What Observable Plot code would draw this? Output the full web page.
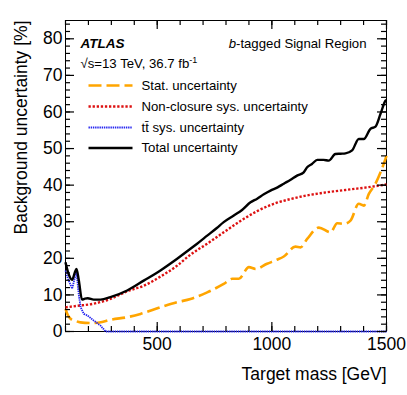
<!DOCTYPE html>
<html>
<head>
<meta charset="utf-8">
<script src="https://cdn.jsdelivr.net/npm/d3@7"></script>
<script src="https://cdn.jsdelivr.net/npm/@observablehq/plot@0.6"></script>
<style>
  html, body { margin: 0; padding: 0; background: white; }
</style>
</head>
<body>
<div id="chart"></div>
<script>
// ---- Data ----
const totalMass = [100,112,129,140,148,158,172,185,197,223,253,296,369,441,514,587,645,674,718,760,790,834,870,907,936,965,994,1025,1052,1080,1110,1139,1154,1175,1198,1225,1248,1277,1300,1321,1350,1379,1401,1430,1452,1474,1496,1500];
const totalVal  = [18.9,16.0,14.1,16.0,17.1,14.0,8.7,9.0,9.1,8.7,8.7,9.4,11.2,13.9,16.7,19.9,22.6,24.0,26.2,28.3,29.9,31.7,33.2,35.3,36.3,37.5,38.5,39.4,40.4,41.4,42.6,43.5,44.9,45.8,46.9,46.9,46.7,48.5,48.6,48.7,49.5,52.6,52.6,55.4,56.0,59.5,63.1,63.3];

const statMass = [100,110,122,140,165,223,260,296,369,427,514,587,645,718,790,827,856,900,929,979,1022,1052,1103,1125,1154,1205,1256,1285,1314,1343,1379,1401,1423,1452,1474,1500];
const statVal  = [6.2,4.5,3.5,3.0,2.5,2.3,2.6,3.2,3.9,4.8,6.6,8.0,8.9,10.7,13.0,14.4,14.4,17.6,17.1,18.5,19.6,20.5,23.2,23.0,25.3,28.4,27.1,29.6,29.4,30.3,34.9,34.4,37.6,40.4,43.5,48.0];

const nonclosMass = [100,150,223,296,369,441,514,587,645,718,790,863,936,1008,1081,1154,1212,1270,1350,1416,1500];
const nonclosVal  = [6.6,7.0,7.6,8.9,11.0,12.5,15.0,18.0,21.0,24.0,27.1,30.2,32.9,34.9,36.2,37.2,37.8,38.3,38.9,39.4,40.2];

const ttbarMass = [100,110,129,140,148,158,166,180,195,223,253,275,400,800,1200,1500];
const ttbarVal  = [16.7,14.5,11.7,14.5,16.2,10.0,6.6,4.8,4.4,3.0,1.6,0,0,0,0,0];

const legendLabels = ["Stat. uncertainty", "Non-closure sys. uncertainty", "tt\u0304 sys. uncertainty", "Total uncertainty"];
const xMajorTicks = [500, 1000, 1500];
const xMinorTicks = d3.range(100, 1501, 100);
const yMajorTicks = [0, 10, 20, 30, 40, 50, 60, 70, 80];
const yMinorTicks = d3.range(0, 85.1, 2);

// ---- Styles ----
const styles = [
  {stroke: "#ffa500", strokeWidth: 2.6, strokeDasharray: "13,5", strokeLinecap: "butt"},
  {stroke: "#dd1111", strokeWidth: 2.4, strokeDasharray: "2.3,1.8", strokeLinecap: "butt"},
  {stroke: "#2626f0", strokeWidth: 1.8, strokeDasharray: "1.4,0.8", strokeLinecap: "butt"},
  {stroke: "#000000", strokeWidth: 2.4, strokeLinecap: "butt"}
];

const toPts = (xs, ys) => xs.map((x, i) => ({x, y: ys[i]}));
const series = [
  toPts(statMass, statVal),
  toPts(nonclosMass, nonclosVal),
  toPts(ttbarMass, ttbarVal),
  toPts(totalMass, totalVal)
];

// Layout
const W = 407, H = 395;
const mT = 20, mB = 64, mL = 65, mR = 21;
const xDom = [100, 1500], yDom = [0, 85];
const fw = W - mL - mR, fh = H - mT - mB;
// pixel lengths -> data lengths (for tick lengths and legend placement)
const dxPx = p => p / fw * (xDom[1] - xDom[0]);
const dyPx = p => p / fh * (yDom[1] - yDom[0]);
const legRowsPx = [65, 86, 107, 127.5];
const legend = legendLabels.map((label, i) => ({label, i, y: yDom[1] - dyPx(legRowsPx[i])}));
const legX1 = xDom[0] + dxPx(23), legX2 = xDom[0] + dxPx(67), legTX = xDom[0] + dxPx(76);

const font = "'Liberation Sans', Arial, Helvetica, sans-serif";
const tk = {stroke: "#000", strokeWidth: 1.2};

const chart = Plot.plot({
  width: W, height: H,
  marginTop: mT, marginBottom: mB, marginLeft: mL, marginRight: mR,
  style: {fontFamily: font, background: "white", color: "black", overflow: "visible"},
  x: {domain: xDom},
  y: {domain: yDom},
  marks: [
    Plot.frame({stroke: "black", strokeWidth: 1}),
    // curves
    Plot.line(series[1], {x: "x", y: "y", curve: "monotone-x", ...styles[1]}),
    Plot.line(series[0], {x: "x", y: "y", curve: "monotone-x", ...styles[0]}),
    Plot.line(series[2], {x: "x", y: "y", curve: "linear", ...styles[2]}),
    Plot.line(series[3], {x: "x", y: "y", curve: "monotone-x", strokeLinejoin: "round", ...styles[3]}),
    // inward ticks on all four sides
    Plot.ruleX(xMinorTicks, {y1: yDom[0], y2: yDom[0] + dyPx(5), ...tk}),
    Plot.ruleX(xMajorTicks, {y1: yDom[0], y2: yDom[0] + dyPx(9), ...tk}),
    Plot.ruleX(xMinorTicks, {y1: yDom[1], y2: yDom[1] - dyPx(5), ...tk}),
    Plot.ruleX(xMajorTicks, {y1: yDom[1], y2: yDom[1] - dyPx(9), ...tk}),
    Plot.ruleY(yMinorTicks, {x1: xDom[0], x2: xDom[0] + dxPx(5), ...tk}),
    Plot.ruleY(yMajorTicks, {x1: xDom[0], x2: xDom[0] + dxPx(9), ...tk}),
    Plot.ruleY(yMinorTicks, {x1: xDom[1], x2: xDom[1] - dxPx(5), ...tk}),
    Plot.ruleY(yMajorTicks, {x1: xDom[1], x2: xDom[1] - dxPx(9), ...tk}),
    // tick labels
    Plot.axisX(xMajorTicks, {anchor: "bottom", tickSize: 0, tickPadding: 6, fontSize: 17.5, tickFormat: d3.format("d"), label: null}),
    Plot.axisY(yMajorTicks, {anchor: "left", tickSize: 0, tickPadding: 3, fontSize: 17.5, tickFormat: d3.format("d"), label: null}),
    // axis titles
    Plot.text(["Target mass [GeV]"], {frameAnchor: "bottom-right", dy: 36, lineAnchor: "top", textAnchor: "end", fontSize: 17.5, fill: "black"}),
    Plot.text(["Background uncertainty [%]"], {frameAnchor: "top-left", dx: -51, rotate: -90, lineAnchor: "top", textAnchor: "end", fontSize: 17.5, fill: "black"}),
    // legend swatches
    ...legend.map(d => Plot.line([{x: legX1, y: d.y}, {x: legX2, y: d.y}], {x: "x", y: "y", ...styles[d.i]})),
    Plot.text(legend, {x: legTX, y: "y", text: "label", textAnchor: "start", fontSize: 13.2, fill: "black"}),
    // annotations
    Plot.text(["ATLAS"], {frameAnchor: "top-left", dx: 15, dy: 23, lineAnchor: "middle", textAnchor: "start", fontSize: 13.5, fontWeight: "bold", fontStyle: "italic", fill: "black"}),
    Plot.text(["\u221As=13 TeV, 36.7 fb-1"], {frameAnchor: "top-left", dx: 15, dy: 43, lineAnchor: "middle", textAnchor: "start", fontSize: 13.2, fill: "black"}),
    Plot.text(["b-tagged Signal Region"], {frameAnchor: "top-right", dx: -20, dy: 23, lineAnchor: "middle", textAnchor: "end", fontSize: 13.2, fill: "black"})
  ]
});

// rich text post-processing
d3.select(chart).selectAll("text").each(function() {
  const t = d3.select(this);
  const s = this.textContent;
  if (s === "b-tagged Signal Region") {
    t.text(null);
    t.append("tspan").attr("font-style", "italic").text("b");
    t.append("tspan").text("-tagged Signal Region");
  } else if (s === "\u221As=13 TeV, 36.7 fb-1") {
    t.text(null);
    t.append("tspan").text("\u221As=13 TeV, 36.7 fb");
    t.append("tspan").attr("font-size", 9).attr("dy", -5).text("-1");
  }
});

document.getElementById("chart").appendChild(chart);
</script>
</body>
</html>
